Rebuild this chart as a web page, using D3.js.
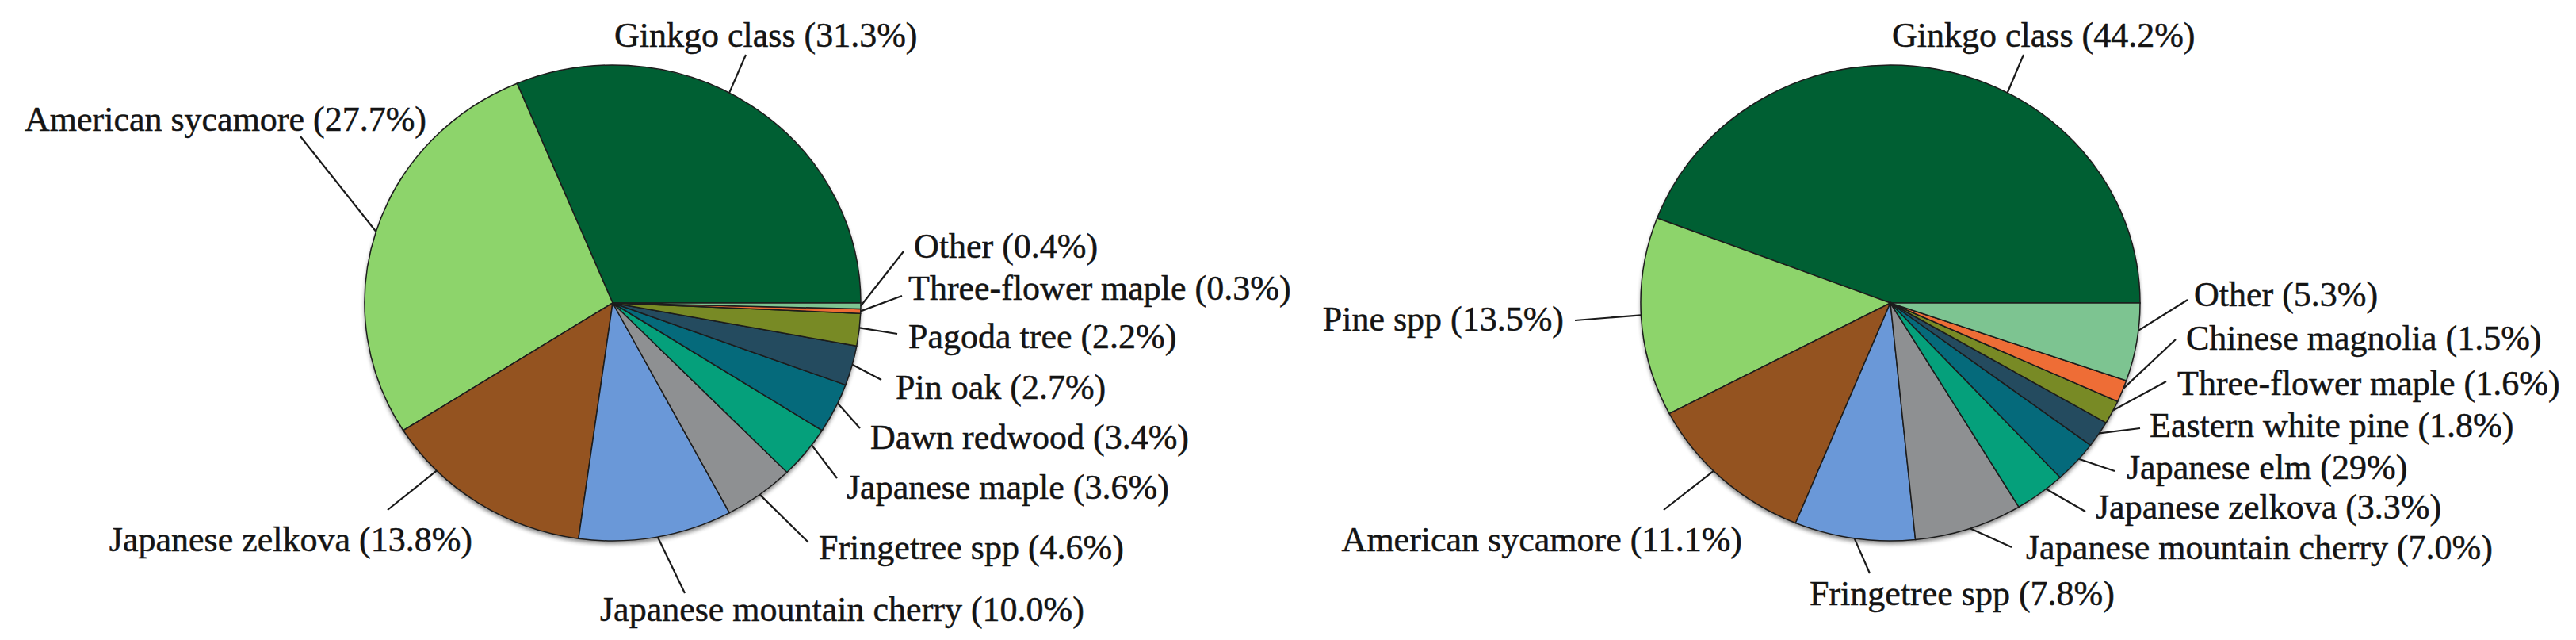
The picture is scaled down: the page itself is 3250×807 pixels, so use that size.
<!DOCTYPE html>
<html>
<head>
<meta charset="utf-8">
<script src="https://cdn.jsdelivr.net/npm/d3@7"></script>
<style>
  body { margin: 0; background: #fff; }
  svg text { font-family: "Liberation Serif", "Times New Roman", serif; font-size: 44px; fill: #141414; stroke: #141414; stroke-width: 0.5px; }
</style>
</head>
<body>
<svg id="chart" width="3250" height="807"></svg>
<script>
// left panel
var leftSpecies = ["Ginkgo class", "American sycamore", "Japanese zelkova", "Japanese mountain cherry",
  "Fringetree spp", "Japanese maple", "Dawn redwood", "Pin oak", "Pagoda tree", "Three-flower maple", "Other"];
var leftShares = [31.3, 27.7, 13.8, 10.0, 4.6, 3.6, 3.4, 2.7, 2.2, 0.3, 0.4];
var leftShareText = ["31.3", "27.7", "13.8", "10.0", "4.6", "3.6", "3.4", "2.7", "2.2", "0.3", "0.4"];

// right panel
var rightSpecies = ["Ginkgo class", "Pine spp", "American sycamore", "Fringetree spp", "Japanese mountain cherry",
  "Japanese zelkova", "Japanese elm", "Eastern white pine", "Three-flower maple", "Chinese magnolia", "Other"];
var rightShares = [44.2, 13.5, 11.1, 7.8, 7.0, 3.3, 2.9, 1.8, 1.6, 1.5, 5.3];
var rightShareText = ["44.2", "13.5", "11.1", "7.8", "7.0", "3.3", "29", "1.8", "1.6", "1.5", "5.3"];

var sliceColors = ["#005f33", "#8dd46b", "#945320", "#6a98d8", "#8e9092", "#05a07b",
  "#056a7b", "#244b5f", "#788a25", "#ee6d36", "#7dc491"];

// label placement: text x, text y, anchor, leader start x/y, where on the slice the leader lands (0..1)
var leftPlace = [
  [775, 44, "start", 941, 69, 0.55],
  [538, 150, "end", 379, 172, 0.5],
  [596, 680, "end", 489, 643, 0.25],
  [757, 768, "start", 864, 748, 0.51],
  [1033, 690, "start", 1020, 684, 0.5],
  [1068, 614, "start", 1056, 603, 0.67],
  [1098, 551, "start", 1085, 540, 0.61],
  [1130, 488, "start", 1112, 479, 0.53],
  [1146, 424, "start", 1132, 421, 0.56],
  [1146, 363, "start", 1138, 373, 0.5],
  [1153, 310, "start", 1140, 317, 0.5]
];
var rightPlace = [
  [2387, 44, "start", 2553, 69, 0.39],
  [1973, 402, "end", 1987, 404, 0.49],
  [2198, 680, "end", 2099, 643, 0.43],
  [2283, 748, "start", 2359, 723, 0.5],
  [2556, 690, "start", 2538, 690, 0.51],
  [2644, 639, "start", 2631, 645, 0.64],
  [2683, 589, "start", 2668, 594, 0.59],
  [2712, 536, "start", 2700, 540, 0.54],
  [2747, 483, "start", 2733, 481, 0.6],
  [2758, 426, "start", 2745, 428, 0.63],
  [2768, 371, "start", 2760, 378, 0.65]
];

var svg = d3.select("#chart");

// soft shadow under the lower rim
var defs = svg.append("defs");
defs.append("filter").attr("id", "soft")
  .append("feGaussianBlur").attr("stdDeviation", 2.5);

function drawPie(cx, cy, rx, ry, species, shares, shareText, place) {
  var pie = d3.pie().sort(null)
    .startAngle(Math.PI / 2)
    .endAngle(Math.PI / 2 - 2 * Math.PI);
  var arcs = pie(shares);
  var arc = d3.arc().innerRadius(0).outerRadius(ry);

  svg.append("ellipse")
    .attr("cx", cx).attr("cy", cy + 4)
    .attr("rx", rx).attr("ry", ry)
    .attr("fill", "#2a2a2a")
    .attr("opacity", 0.55)
    .attr("filter", "url(#soft)");

  var g = svg.append("g")
    .attr("transform", "translate(" + cx + "," + cy + ") scale(" + (rx / ry) + ",1)");
  g.selectAll("path")
    .data(arcs)
    .enter().append("path")
    .attr("d", arc)
    .attr("fill", function(d, i) { return sliceColors[i]; })
    .attr("stroke", "#1c1c1c")
    .attr("stroke-width", 1.5)
    .attr("vector-effect", "non-scaling-stroke");

  arcs.forEach(function(s, i) {
    var p = place[i];
    var a = s.startAngle + p[5] * (s.endAngle - s.startAngle);
    svg.append("line")
      .attr("x1", p[3]).attr("y1", p[4])
      .attr("x2", cx + rx * Math.sin(a))
      .attr("y2", cy - ry * Math.cos(a))
      .attr("stroke", "#1a1a1a")
      .attr("stroke-width", 2.2);
    svg.append("text")
      .attr("x", p[0]).attr("y", p[1])
      .attr("dy", "0.35em")
      .attr("text-anchor", p[2])
      .text(species[i] + " (" + shareText[i] + "%)");
  });
}

drawPie(773, 382, 313, 300, leftSpecies, leftShares, leftShareText, leftPlace);
drawPie(2385, 382, 315, 300, rightSpecies, rightShares, rightShareText, rightPlace);
</script>
</body>
</html>
